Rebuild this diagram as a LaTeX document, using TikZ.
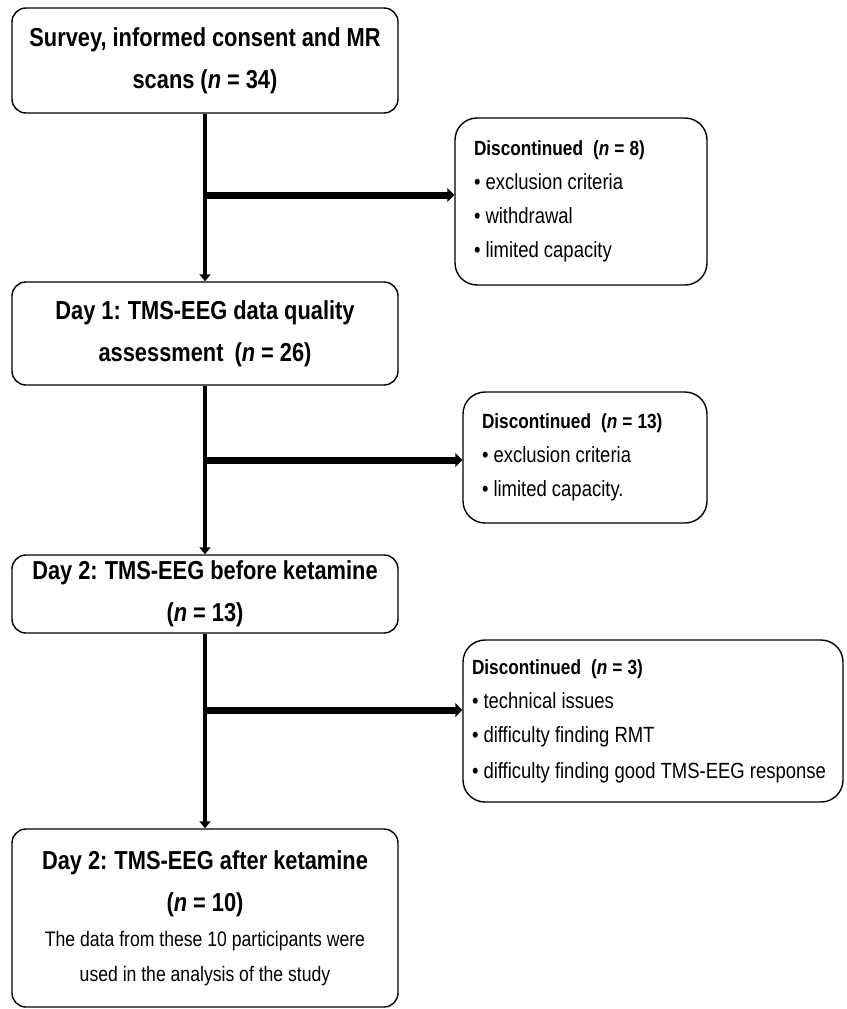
\documentclass[tikz,border=0pt]{standalone}
\usepackage{fontspec}
\setmainfont{Liberation Sans}[FakeStretch=0.84]
\usepackage{tikz}
\usetikzlibrary{positioning, arrows.meta}
\newcommand\tightsp{\spaceskip=0.23em\relax\xspaceskip=0.27em\relax}

\begin{document}
\begin{tikzpicture}[x=1pt, y=-1pt,
		every edge/.style = {draw=black, line width=4pt},
		stage/.style = {rectangle, rounded corners=14pt, draw, line width=1.4pt,
			fill=white, minimum width=386pt, text width=370pt, inner sep=0pt,
			align=center, font={\fontsize{26}{42}\selectfont\bfseries},
			execute at begin node=\tightsp},
		exit/.style = {rectangle, rounded corners=22pt, draw, line width=1.4pt,
			fill=white, inner sep=0pt, align=left,
			font={\fontsize{22}{34}\selectfont},
			execute at begin node=\tightsp},
		flow/.style = {-{Triangle[length=7pt, width=11pt]}},
		branch/.style = {line width=7pt, -{Triangle[length=7pt, width=14pt]}}
		]
	\useasboundingbox (0,0) rectangle (846,1009);

	% main stages
	\node(s1) [stage, minimum height=105pt] at (205, 60.5)
		{Survey, informed consent and MR\\ scans (\textit{n} = 34)};
	\node(s2) [stage, minimum height=103pt] at (205, 333.5)
		{Day 1: TMS-EEG data quality\\ assessment\hspace{5pt} (\textit{n} = 26)};
	\node(s3) [stage, minimum height=78pt] at (205, 594)
		{Day 2: TMS-EEG before ketamine\\ (\textit{n} = 13)};
	\node(s4) [stage, minimum height=178pt] at (205, 918)
		{Day 2: TMS-EEG after ketamine\\ (\textit{n} = 10)\par
		{\mdseries\fontsize{21}{35}\selectfont\tightsp The data from these 10 participants were\\
		used in the analysis of the study\par}};

	% drop-outs
	\node(x1) [exit, minimum width=252pt, minimum height=167pt, text width=214pt] at (581, 201.5)
		{{\bfseries\fontsize{20.5}{34}\selectfont Discontinued\hspace{5pt} (\textit{n} = 8)}\\
		\textbullet\ exclusion criteria\\
		\textbullet\ withdrawal\\
		\textbullet\ limited capacity};
	\node(x2) [exit, minimum width=244pt, minimum height=131pt, text width=206pt] at (585, 457.5)
		{{\bfseries\fontsize{20.5}{34}\selectfont Discontinued\hspace{5pt} (\textit{n} = 13)}\\
		\textbullet\ exclusion criteria\\
		\textbullet\ limited capacity.};
	\node(x3) [exit, minimum width=380pt, minimum height=162pt, text width=362pt] at (653, 721)
		{{\bfseries\fontsize{20.5}{34}\selectfont Discontinued\hspace{5pt} (\textit{n} = 3)}\\
		\textbullet\ technical issues\\
		\textbullet\ difficulty finding RMT\\[2pt]
		\textbullet\ difficulty finding good TMS-EEG response};

	\coordinate(j1) at (203, 195);
	\coordinate(j2) at (203, 460);
	\coordinate(j3) at (203, 710);

	\path   (s1) edge [flow] (s2)
		(s2) edge [flow] (s3)
		(s3) edge [flow] (s4);
	\path   (j1) edge [branch] (j1 -| x1.west)
		(j2) edge [branch] (j2 -| x2.west)
		(j3) edge [branch] (j3 -| x3.west);
\end{tikzpicture}
\end{document}
